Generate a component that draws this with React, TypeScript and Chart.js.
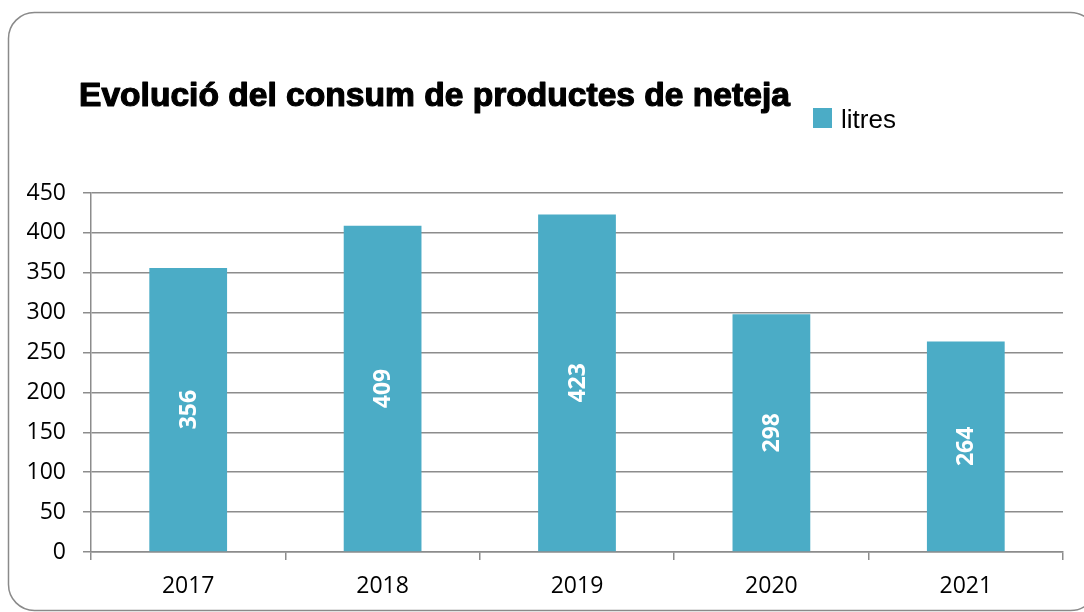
import React, { useEffect, useRef } from "react";
import { Chart, registerables } from "chart.js";

Chart.register(...registerables);

const categories = ["2017", "2018", "2019", "2020", "2021"];
const litres = [356, 409, 423, 298, 264];
const seriesName = "litres";
const titleText = "Evolució del consum de productes de neteja";
const yMin = 0;
const yMax = 450;
const yStep = 50;

const BAR_COLOR = "#4BACC6";
const GRID_COLOR = "#8c8c8c";

const decorPlugin = {
  id: "decor",
  beforeDraw(chart: any) {
    const ctx = chart.ctx;
    ctx.save();
    ctx.fillStyle = "#ffffff";
    ctx.fillRect(0, 0, chart.width, chart.height);
    // rounded outer border
    const x = 8.5, y = 12.5, w = 1088, h = 598, r = 26;
    ctx.beginPath();
    ctx.moveTo(x + r, y);
    ctx.lineTo(x + w - r, y);
    ctx.arcTo(x + w, y, x + w, y + r, r);
    ctx.lineTo(x + w, y + h - r);
    ctx.arcTo(x + w, y + h, x + w - r, y + h, r);
    ctx.lineTo(x + r, y + h);
    ctx.arcTo(x, y + h, x, y + h - r, r);
    ctx.lineTo(x, y + r);
    ctx.arcTo(x, y, x + r, y, r);
    ctx.closePath();
    ctx.strokeStyle = "#8a8a8a";
    ctx.lineWidth = 1.5;
    ctx.stroke();
    ctx.restore();
  },
  afterDatasetsDraw(chart: any) {
    const ctx = chart.ctx;
    ctx.save();
    const meta = chart.getDatasetMeta(0);
    ctx.fillStyle = "#ffffff";
    ctx.font = "bold 23px 'Open Sans'";
    ctx.textAlign = "center";
    ctx.textBaseline = "middle";
    meta.data.forEach((bar: any, i: number) => {
      const cx = bar.x;
      const cy = (bar.y + bar.base) / 2;
      ctx.save();
      ctx.translate(cx, cy);
      ctx.rotate(-Math.PI / 2);
      ctx.fillText(String(chart.data.datasets[0].data[i]), 0, 1);
      ctx.restore();
    });
    ctx.restore();
  },
  afterDraw(chart: any) {
    const ctx = chart.ctx;
    ctx.save();
    // title
    ctx.fillStyle = "#000000";
    ctx.strokeStyle = "#000000";
    ctx.lineWidth = 1.2;
    ctx.lineJoin = "round";
    ctx.font = "bold 33.6px 'Liberation Sans', Arial, sans-serif";
    ctx.textAlign = "left";
    ctx.textBaseline = "alphabetic";
    ctx.fillText(titleText, 79, 106);
    ctx.strokeText(titleText, 79, 106);
    // legend
    ctx.fillStyle = BAR_COLOR;
    ctx.fillRect(813, 108, 19, 20);
    ctx.fillStyle = "#000000";
    ctx.font = "26px 'Liberation Sans', Arial, sans-serif";
    ctx.fillText(chart.data.datasets[0].label, 841, 128);
    ctx.restore();
  },
};

export default function App() {
  const canvasRef = useRef<HTMLCanvasElement | null>(null);

  useEffect(() => {
    if (!canvasRef.current) return;
    const chart = new Chart(canvasRef.current, {
      type: "bar",
      data: {
        labels: categories,
        datasets: [
          {
            label: seriesName,
            data: litres,
            backgroundColor: BAR_COLOR,
            borderWidth: 0,
            categoryPercentage: 1,
            barPercentage: 0.4,
          },
        ],
      },
      options: {
        animation: false,
        responsive: true,
        maintainAspectRatio: false,
        layout: { padding: { top: 193, right: 21, left: 0, bottom: 0 } },
        plugins: {
          legend: { display: false },
          title: { display: false },
          tooltip: { enabled: false },
        },
        scales: {
          x: {
            grid: {
              display: true,
              drawOnChartArea: false,
              drawTicks: true,
              tickLength: 8,
              color: GRID_COLOR,
              lineWidth: 1.5,
              offset: true,
            },
            border: { display: true, color: GRID_COLOR, width: 1.5 },
            ticks: {
              color: "#000000",
              font: { family: "'Open Sans'", size: 23 },
              padding: 13,
            },
            afterFit: (s: any) => {
              s.height = 60;
            },
          },
          y: {
            min: yMin,
            max: yMax,
            ticks: {
              stepSize: yStep,
              color: "#000000",
              font: { family: "'Open Sans'", size: 23 },
              padding: 17,
            },
            grid: { color: GRID_COLOR, lineWidth: 1.5, tickLength: 8, drawTicks: true },
            border: { display: true, color: GRID_COLOR, width: 1.5 },
            afterFit: (s: any) => {
              s.width = 91;
            },
          },
        },
      },
      plugins: [decorPlugin],
    });
    return () => chart.destroy();
  }, []);

  return (
    <div style={{ position: "fixed", left: 0, top: 0, width: 1084, height: 612, background: "#fff" }}>
      <canvas ref={canvasRef} />
    </div>
  );
}
